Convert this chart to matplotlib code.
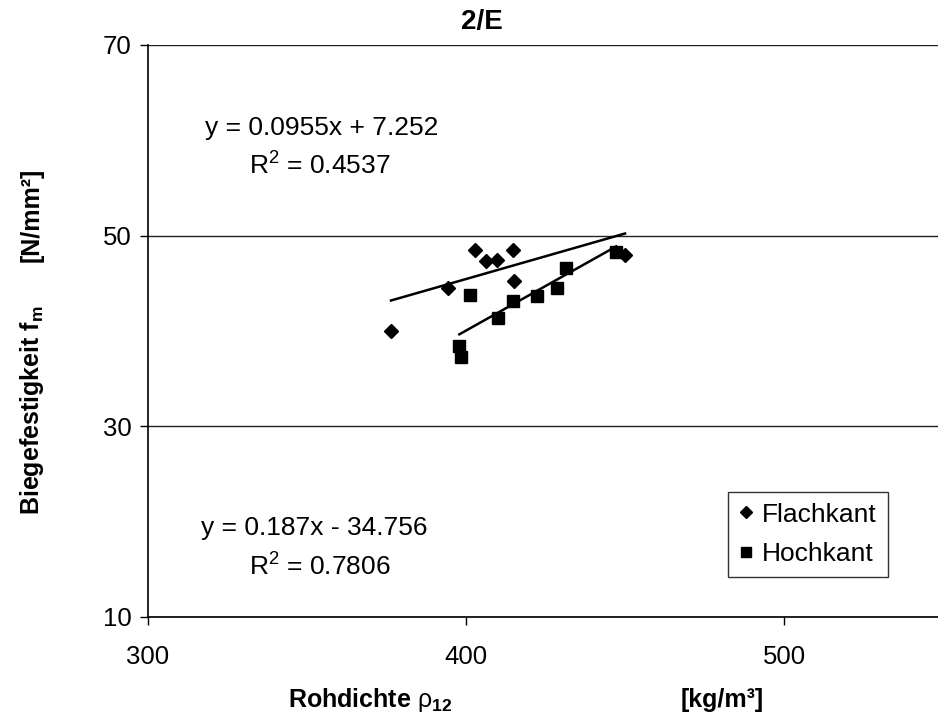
import matplotlib
matplotlib.use("Agg")
import matplotlib.pyplot as plt

# -----------------------------
# DATA
# -----------------------------
flach_x = [376.4, 394.4, 402.8, 406.3, 409.6, 414.9, 415.2, 450.0]
flach_y = [40.0, 44.5, 48.5, 47.3, 47.5, 48.5, 45.2, 48.0]

hoch_x = [397.9, 398.4, 401.3, 410.0, 414.7, 422.2, 428.7, 431.3, 447.2]
hoch_y = [38.4, 37.3, 43.8, 41.4, 43.1, 43.7, 44.5, 46.6, 48.3]

# trend line coefficients as printed on the chart
flach_fit = (0.0955, 7.252, 0.4537)
hoch_fit = (0.187, -34.756, 0.7806)

x_ticks = [300, 400, 500]
y_ticks = [10, 30, 50, 70]

# -----------------------------
# STYLE
# -----------------------------
plt.rcParams['font.family'] = ['Liberation Sans', 'DejaVu Sans']
plt.rcParams['mathtext.fontset'] = 'custom'
plt.rcParams['mathtext.rm'] = 'Liberation Sans'
plt.rcParams['mathtext.it'] = 'Liberation Sans:italic'
plt.rcParams['mathtext.bf'] = 'Liberation Sans:bold'
FS = 19

W, H = 938, 725
fig = plt.figure(figsize=(W / 100, H / 100), dpi=100)
ax = fig.add_axes([148 / W, 1 - 617 / H, (W - 148) / W, (617 - 45) / H])

ax.set_xlim(300, 548.4)
ax.set_ylim(10, 70)
ax.set_xticks(x_ticks)
ax.set_yticks(y_ticks)
ax.tick_params(labelsize=18.5, length=6, width=1, color='black', pad=6)
ax.tick_params(axis='x', pad=14)
for s in ['top', 'right']:
    ax.spines[s].set_visible(False)
for s in ['left', 'bottom']:
    ax.spines[s].set_linewidth(1.2)
ax.yaxis.grid(True, color='#222222', linewidth=1)
ax.set_axisbelow(True)

# data points
ax.plot(flach_x, flach_y, 'D', color='black', ms=7.5, label='Flachkant', zorder=3)
ax.plot(hoch_x, hoch_y, 's', color='black', ms=9, label='Hochkant', zorder=3)

# trend lines from min to max x of each series
for xs, (m, b, r2) in [(flach_x, flach_fit), (hoch_x, hoch_fit)]:
    x0, x1 = min(xs), max(xs)
    ax.plot([x0, x1], [m * x0 + b, m * x1 + b], color='black', lw=1.8, zorder=2)

# equation labels
ax.text(322 / W, 1 - 128 / H, f"y = {flach_fit[0]}x + {flach_fit[1]}",
        transform=fig.transFigure, ha='center', va='center', fontsize=FS)
ax.text(320 / W, 1 - 166 / H, "R$^2$ = %.4f" % flach_fit[2],
        transform=fig.transFigure, ha='center', va='center', fontsize=FS)
ax.text(314 / W, 1 - 528 / H, f"y = {hoch_fit[0]}x - {abs(hoch_fit[1])}",
        transform=fig.transFigure, ha='center', va='center', fontsize=FS)
ax.text(320 / W, 1 - 567 / H, "R$^2$ = %.4f" % hoch_fit[2],
        transform=fig.transFigure, ha='center', va='center', fontsize=FS)

# legend
leg = ax.legend(loc='upper left', bbox_to_anchor=(728 / W, 1 - 492 / H),
                bbox_transform=fig.transFigure, fontsize=FS, frameon=True,
                fancybox=False, edgecolor='black', handlelength=0.6,
                handletextpad=0.3, borderpad=0.4, labelspacing=0.6,
                markerscale=0.75, borderaxespad=0)
leg.get_frame().set_linewidth(1)

# titles / axis labels
fig.text(482 / W, 1 - 22 / H, "2/E", ha='center', va='center',
         fontsize=FS + 1, fontweight='bold')
fig.text(370 / W, 1 - 700 / H, r"Rohdichte $\mathrm{\rho}_{\mathbf{12}}$", ha='center',
         va='center', fontsize=18, fontweight='bold')
fig.text(722 / W, 1 - 700 / H, "[kg/m³]", ha='center', va='center',
         fontsize=18, fontweight='bold')
fig.text(32 / W, 1 - 410 / H, r"Biegefestigkeit f$_{\mathbf{m}}$", ha='center',
         va='center', rotation=90, fontsize=18, fontweight='bold')
fig.text(32 / W, 1 - 215 / H, "[N/mm²]", ha='center', va='center',
         rotation=90, fontsize=18, fontweight='bold')

fig.savefig("out.png", dpi=100)
